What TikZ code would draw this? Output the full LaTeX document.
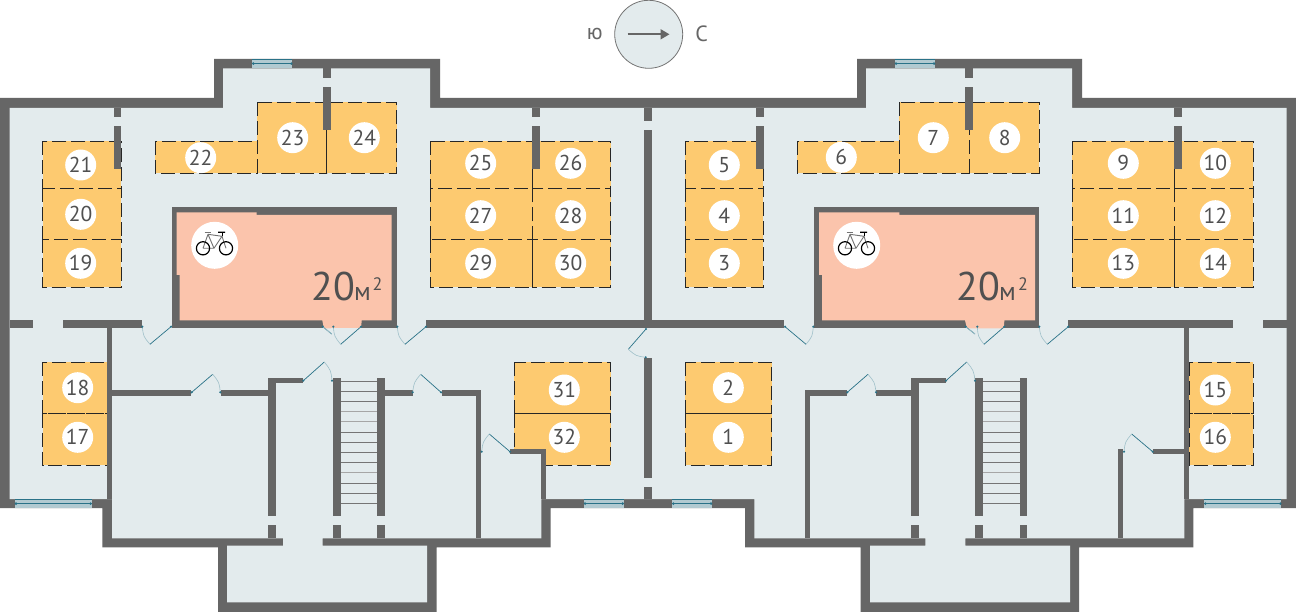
\documentclass[tikz,border=0pt]{standalone}
\usepackage{fontspec}
\setmainfont{PT Sans}
\usetikzlibrary{calc,arrows.meta}

\definecolor{wallgray}{HTML}{666666}
\definecolor{floorblue}{HTML}{E3EBED}
\definecolor{slotorange}{HTML}{FDCA70}
\definecolor{roompink}{HTML}{FBC4AC}
\definecolor{glassblue}{HTML}{B2CAD1}
\definecolor{fittingteal}{HTML}{2A7288}
\definecolor{textgray}{HTML}{505050}

\tikzset{
  wall/.style={fill=wallgray},
  slotbox/.style={draw=black!85,line width=0.7pt,dash pattern=on 14pt off 5pt,fill=slotorange},
  slotnum/.style={circle,fill=white,inner sep=0pt,minimum size=31pt,text=textgray,font=\fontsize{21.5}{24}\selectfont},
  bikebadge/.style={circle,fill=white,inner sep=0pt,minimum size=47pt},
  tread/.style={draw=wallgray!90,line width=0.9pt},
  treadpale/.style={draw=black!35,line width=1.2pt},
}

% hinge, tip of the leaf, other jamb
\newcommand{\doorway}[3]{
  \draw[fittingteal,line width=0.7pt] #1 -- #2;
  \draw[fittingteal!45,line width=0.6pt] #2 .. controls ($#1!1.11!($#2!.5!#3$)$) .. #3;
  \fill[fittingteal] #1 circle (1.2pt) #3 circle (1.2pt);
}
% left x, right x, top y
\newcommand{\glazing}[3]{
  \fill[glassblue] (#1,#3) rectangle (#2,#3+9.3);
  \draw[fittingteal,line width=0.6pt] (#1,#3) -- (#2,#3) (#1,#3+4.6) -- (#2,#3+4.6);
  \fill[fittingteal] (#1+1,#3+4.6) circle (1.4pt) (#2-1,#3+4.6) circle (1.4pt);
}
% pedal centre of the rear wheel is at (#1,#2)
\newcommand{\bicycle}[2]{
  \begin{scope}[shift={(#1,#2)}]
  \draw[black!55,line width=0.9pt] (0,0) -- (5,-14) (5,-14) -- (19,-12) -- (11,0) -- (0,0) (5,-14) -- (11,0);
  \draw[black!55,line width=1.2pt] (1.5,-15.5) -- (8,-15.5);
  \draw[black!55,line width=0.9pt] (19,-12) -- (23,0);
  \draw[black,line width=1.2pt] (0,0) circle (6.6) (23,0) circle (6.6) (15,-16) -- (22,-16);
  \draw[black,line width=0.9pt] (19,-16) -- (19,-12);
  \end{scope}
}

\begin{document}
\begin{tikzpicture}[x=1pt,y=-1pt]
\useasboundingbox (0,0) rectangle (1296,612);
\fill[white] (0,0) rectangle (1296,612);

% outer shell
\fill[wall] (0,98) -- (214,98) -- (214,59) -- (440,59) -- (440,98) -- (857,98) -- (857,59) -- (1082,59) -- (1082,98)
  -- (1296,98) -- (1296,508) -- (1193.3,508) -- (1193.3,547.3) -- (1079,547.3) -- (1079,612) -- (860.7,612) -- (860.7,547.3)
  -- (745,547.3) -- (745,508) -- (550.7,508) -- (550.7,547.3) -- (436.7,547.3) -- (436.7,612) -- (218,612) -- (218,547.3)
  -- (102.3,547.3) -- (102.3,508) -- (0,508) -- cycle;

% floor
\fill[floorblue] (9.5,108) -- (223,108) -- (223,68.5) -- (430,68.5) -- (430,108) -- (866,108) -- (866,68.5) -- (1072,68.5) -- (1072,108)
  -- (1286.7,108) -- (1286.7,499) -- (1184.3,499) -- (1184.3,538.3) -- (965.3,538.3) -- (965.3,545.7) -- (1070,545.7) -- (1070,602.3)
  -- (870,602.3) -- (870,545.7) -- (925.3,545.7) -- (925.3,538.3) -- (754.3,538.3) -- (754.3,499) -- (541.3,499) -- (541.3,538.3)
  -- (322.7,538.3) -- (322.7,545.7) -- (427,545.7) -- (427,602.3) -- (227,602.3) -- (227,545.7) -- (283,545.7) -- (283,538.3)
  -- (112,538.3) -- (112,499) -- (9.5,499) -- cycle;

% parking slots
\draw[slotbox] (42.7,141.3) rectangle (121.3,188.5);
\draw[slotbox] (42.7,188.5) rectangle (121.3,239.3);
\draw[slotbox] (42.7,239.3) rectangle (121.3,287.3);
\draw[slotbox] (155,141.3) rectangle (257,173.3);
\draw[slotbox] (257,102.3) rectangle (326.7,173.3);
\draw[slotbox] (326.7,102.3) rectangle (396.7,173.3);
\draw[slotbox] (430.3,141.3) rectangle (532.7,188.5);
\draw[slotbox] (532.7,141.3) rectangle (610.7,188.5);
\draw[slotbox] (430.3,188.5) rectangle (532.7,239.3);
\draw[slotbox] (532.7,188.5) rectangle (610.7,239.3);
\draw[slotbox] (430.3,239.3) rectangle (532.7,287.3);
\draw[slotbox] (532.7,239.3) rectangle (610.7,287.3);
\draw[slotbox] (42.7,362) rectangle (107,413.7);
\draw[slotbox] (42.7,413.7) rectangle (107,465.3);
\draw[slotbox] (514.3,362) rectangle (610.7,413.7);
\draw[slotbox] (514.3,413.7) rectangle (610.7,465.3);
\draw[slotbox] (685.3,362) rectangle (771.7,413.7);
\draw[slotbox] (685.3,413.7) rectangle (771.7,465.3);
\draw[slotbox] (685.3,141.3) rectangle (763.3,188.5);
\draw[slotbox] (685.3,188.5) rectangle (763.3,239.3);
\draw[slotbox] (685.3,239.3) rectangle (763.3,287.3);
\draw[slotbox] (797.3,141.3) rectangle (899.3,173.3);
\draw[slotbox] (899.3,102.3) rectangle (969.3,173.3);
\draw[slotbox] (969.3,102.3) rectangle (1039,173.3);
\draw[slotbox] (1072.3,141.3) rectangle (1174.7,188.5);
\draw[slotbox] (1174.7,141.3) rectangle (1253.3,188.5);
\draw[slotbox] (1072.3,188.5) rectangle (1174.7,239.3);
\draw[slotbox] (1174.7,188.5) rectangle (1253.3,239.3);
\draw[slotbox] (1072.3,239.3) rectangle (1174.7,287.3);
\draw[slotbox] (1174.7,239.3) rectangle (1253.3,287.3);
\draw[slotbox] (1189,362) rectangle (1253.3,413.7);
\draw[slotbox] (1189,413.7) rectangle (1253.3,465.3);

% closet cuts into slot 32
\fill[floorblue] (480.7,454) rectangle (541.3,538.3);
\fill[floorblue] (546,454) -- (546,499) -- (541.3,499) -- (541.3,454) -- cycle;

% bike rooms
\fill[wall] (171.7,207.3) rectangle (396.7,328.3);
\fill[roompink] (176.7,212.3) -- (256.7,212.3) -- (256.7,215) -- (391.7,215) -- (391.7,320.5) -- (361.7,320.5) -- (361,328.3)
  -- (324,328.3) -- (322.3,320.5) -- (179.7,320.5) -- (179.7,275) -- (176.7,275) -- cycle;
\fill[floorblue] (331,328.3) -- (361,328.3) -- (361,330) -- (331,330) -- cycle;
\fill[wall] (814,207) rectangle (1039.3,328.3);
\fill[roompink] (819,212.3) -- (899.3,212.3) -- (899.3,215) -- (1035,215) -- (1035,320.5) -- (1004.3,320.5) -- (1004,328.3)
  -- (967,328.3) -- (965,320.5) -- (822,320.5) -- (822,275) -- (819,275) -- cycle;

% corridor walls, left wing
\fill[wall] (9.5,320) rectangle (33.3,328.3);
\fill[wall] (63,320) rectangle (142.3,328.3);
\fill[wall] (426,320) rectangle (784.3,328.3);
\fill[wall] (107,320) rectangle (112,499);
\fill[wall] (113.7,108) rectangle (121.3,116.7);
\fill[wall] (113.7,126) rectangle (121.3,168.7);
\fill[wall] (323.3,68) rectangle (330.7,78);
\fill[wall] (323.3,87) rectangle (330.7,130);
\fill[wall] (531.7,108) rectangle (539.7,117);
\fill[wall] (531.7,126) rectangle (539.7,168.7);

% corridor walls, centre
\fill[wall] (644,108) rectangle (652,120.7);
\fill[wall] (644,129.7) rectangle (652,328);
\fill[wall] (644,358) rectangle (652,477.7);
\fill[wall] (644,487) rectangle (652,499);

% corridor walls, right wing
\fill[wall] (1068.3,320) rectangle (1232.7,328.3);
\fill[wall] (1262.7,320) rectangle (1287,328.3);
\fill[wall] (1184.3,320) rectangle (1189,499);
\fill[wall] (756,108) rectangle (764,117);
\fill[wall] (756,126) rectangle (764,168.7);
\fill[wall] (965.3,68) rectangle (972.7,77.7);
\fill[wall] (965.3,87) rectangle (972.7,130);
\fill[wall] (1174.3,108) rectangle (1182.3,117);
\fill[wall] (1174.3,126) rectangle (1182.3,168.7);

% lower rooms, left wing
\fill[wall] (112,390) rectangle (191.3,395.7);
\fill[wall] (220.7,390) rectangle (276.3,395.7);
\fill[wall] (268.3,378.3) rectangle (276.3,516);
\fill[wall] (268.3,525) rectangle (276.3,538.3);
\fill[wall] (268.3,378.3) rectangle (303.3,383.3);
\fill[wall] (333,378.3) rectangle (341,516);
\fill[wall] (333,525) rectangle (341,538.3);
\fill[wall] (377,378.3) rectangle (385,516);
\fill[wall] (377,525) rectangle (385,538.3);
\fill[wall] (385,390) rectangle (412.7,395.7);
\fill[wall] (442,390) rectangle (480.7,395.7);
\fill[wall] (475.7,390) rectangle (480.7,538.3);
\fill[wall] (510,449) rectangle (546,454);
\fill[wall] (541.3,449) rectangle (546,499);

% lower rooms, right wing
\fill[wall] (805,390) rectangle (847.3,395.7);
\fill[wall] (805,390) rectangle (810,538.3);
\fill[wall] (876,390) rectangle (919,395.7);
\fill[wall] (911,378.3) rectangle (919,516);
\fill[wall] (911,525) rectangle (919,538.3);
\fill[wall] (911,378.3) rectangle (946,383.3);
\fill[wall] (975.3,378.3) rectangle (983.3,516);
\fill[wall] (975.3,525) rectangle (983.3,538.3);
\fill[wall] (1020,378.3) rectangle (1027.3,516);
\fill[wall] (1020,525) rectangle (1027.3,538.3);
\fill[wall] (1118.3,449) rectangle (1123.3,538.3);
\fill[wall] (1152.7,449) rectangle (1184.3,454);

% stairs
\draw[tread] (341,381.3) -- (377,381.3) (341,391.3) -- (377,391.3) (341,401.3) -- (377,401.3) (341,432.3) -- (377,432.3)
  (341,442.3) -- (377,442.3) (341,452.3) -- (377,452.3) (341,462.3) -- (377,462.3) (341,483.3) -- (377,483.3)
  (341,493.3) -- (377,493.3) (341,503.3) -- (377,503.3);
\draw[treadpale] (341,411.7) -- (377,411.7) (341,421.7) -- (377,421.7) (341,472.7) -- (377,472.7);
\draw[tread] (983.3,381.3) -- (1020,381.3) (983.3,391.3) -- (1020,391.3) (983.3,401.3) -- (1020,401.3) (983.3,432.3) -- (1020,432.3)
  (983.3,442.3) -- (1020,442.3) (983.3,452.3) -- (1020,452.3) (983.3,462.3) -- (1020,462.3) (983.3,483.3) -- (1020,483.3)
  (983.3,493.3) -- (1020,493.3) (983.3,503.3) -- (1020,503.3);
\draw[treadpale] (983.3,411.7) -- (1020,411.7) (983.3,421.7) -- (1020,421.7) (983.3,472.7) -- (1020,472.7);

% windows
\glazing{252.3}{292.3}{59}
\glazing{895}{935}{59}
\glazing{15}{91.7}{499}
\glazing{584}{623.7}{499}
\glazing{672.3}{712}{499}
\glazing{1204.3}{1281.3}{499}

% doors
\doorway{(171,326.7)}{(150,344.3)}{(142.3,326.7)}
\doorway{(361,326.7)}{(340.7,344.3)}{(333.3,326.7)}
\doorway{(322.7,326.7)}{(331.7,334)}{(322.7,326.7)}
\doorway{(426,326.7)}{(405,344.3)}{(397.3,326.7)}
\doorway{(191.7,392.3)}{(212.7,374.3)}{(220.3,392.3)}
\doorway{(303.3,380.7)}{(324.3,362)}{(332,380.7)}
\doorway{(441,392.3)}{(420.7,374.3)}{(412.7,392.3)}
\doorway{(510,451.7)}{(489.3,434)}{(481.7,451.7)}
\doorway{(646,329)}{(628.3,349.3)}{(645.7,357.3)}
\doorway{(785,326.7)}{(806,344.3)}{(813.3,326.7)}
\doorway{(847.3,392.3)}{(868,374.3)}{(876,392.3)}
\doorway{(946,380.7)}{(966.7,362)}{(975,380.7)}
\doorway{(1004.3,326.7)}{(984,344.3)}{(977.3,326.7)}
\doorway{(965.7,326.7)}{(975,334)}{(965.7,326.7)}
\doorway{(1068.3,326.7)}{(1047.3,344.3)}{(1039.3,326.7)}
\doorway{(1152.7,451.7)}{(1131.7,434)}{(1124,451.7)}

% slot numbers
\node[slotnum] (n1) at (728.3,437.3) {1};
\node[slotnum] (n2) at (728.3,387.7) {2};
\node[slotnum] (n3) at (724.3,263.3) {3};
\node[slotnum] (n4) at (724.3,215.7) {4};
\node[slotnum] (n5) at (724.3,165) {5};
\node[slotnum] (n6) at (841.3,157.3) {6};
\node[slotnum] (n7) at (933.3,137.7) {7};
\node[slotnum] (n8) at (1004.7,137.7) {8};
\node[slotnum] (n9) at (1123.3,163.3) {9};
\node[slotnum] (n10) at (1215.3,163.3) {10};
\node[slotnum] (n11) at (1123.3,215.7) {11};
\node[slotnum] (n12) at (1215.3,215.7) {12};
\node[slotnum] (n13) at (1123.3,263.3) {13};
\node[slotnum] (n14) at (1215.3,263.3) {14};
\node[slotnum] (n15) at (1215.3,390) {15};
\node[slotnum] (n16) at (1215.3,437.3) {16};
\node[slotnum] (n17) at (77.7,437.3) {17};
\node[slotnum] (n18) at (77.7,387.7) {18};
\node[slotnum] (n19) at (80.7,263.3) {19};
\node[slotnum] (n20) at (80.7,214.3) {20};
\node[slotnum] (n21) at (80.7,165) {21};
\node[slotnum] (n22) at (200.7,157.7) {22};
\node[slotnum] (n23) at (292.7,137.7) {23};
\node[slotnum] (n24) at (364.3,137.7) {24};
\node[slotnum] (n25) at (480.7,163.3) {25};
\node[slotnum] (n26) at (570.7,163.3) {26};
\node[slotnum] (n27) at (480.7,215.7) {27};
\node[slotnum] (n28) at (570.7,215.7) {28};
\node[slotnum] (n29) at (480.7,263.3) {29};
\node[slotnum] (n30) at (570.7,263.3) {30};
\node[slotnum] (n31) at (564.3,390) {31};
\node[slotnum] (n32) at (564.3,437.3) {32};

% bikes and area
\node[bikebadge] (badgeleft) at (214.7,245.3) {};
\node[bikebadge] (badgeright) at (856.7,245.3) {};
\bicycle{203}{248.3}
\bicycle{845}{248.3}
\node[anchor=base east,text=textgray,font=\fontsize{40}{44}\selectfont,inner sep=0pt] (arealeft) at (355,300.5) {20};
\node[anchor=base west,text=textgray,font=\fontsize{26}{28}\selectfont,inner sep=0pt] (unitleft) at (354,300.5) {м};
\node[anchor=base west,text=textgray,font=\fontsize{18}{20}\selectfont,inner sep=0pt] (powerleft) at (372.5,290.5) {2};
\node[anchor=base east,text=textgray,font=\fontsize{40}{44}\selectfont,inner sep=0pt] (arearight) at (1000,300.5) {20};
\node[anchor=base west,text=textgray,font=\fontsize{26}{28}\selectfont,inner sep=0pt] (unitright) at (999,300.5) {м};
\node[anchor=base west,text=textgray,font=\fontsize{18}{20}\selectfont,inner sep=0pt] (powerright) at (1018,290.5) {2};

% compass
\node[circle,draw=black!55,fill=floorblue,line width=0.8pt,inner sep=0pt,minimum size=68pt] (compass) at (648.7,34.3) {};
\coordinate (tailpt) at (627.7,34.3);
\coordinate (headpt) at (669.5,34.3);
\draw[wallgray,line width=1.8pt,-{Triangle[length=9pt,width=10pt]}] (tailpt) -- (headpt);
\node[text=black!60,font=\fontsize{22}{24}\selectfont] (southlabel) at (594.7,34.5) {ю};
\node[text=black!60,font=\fontsize{22}{24}\selectfont] (northlabel) at (701.7,34) {С};

\end{tikzpicture}
\end{document}
